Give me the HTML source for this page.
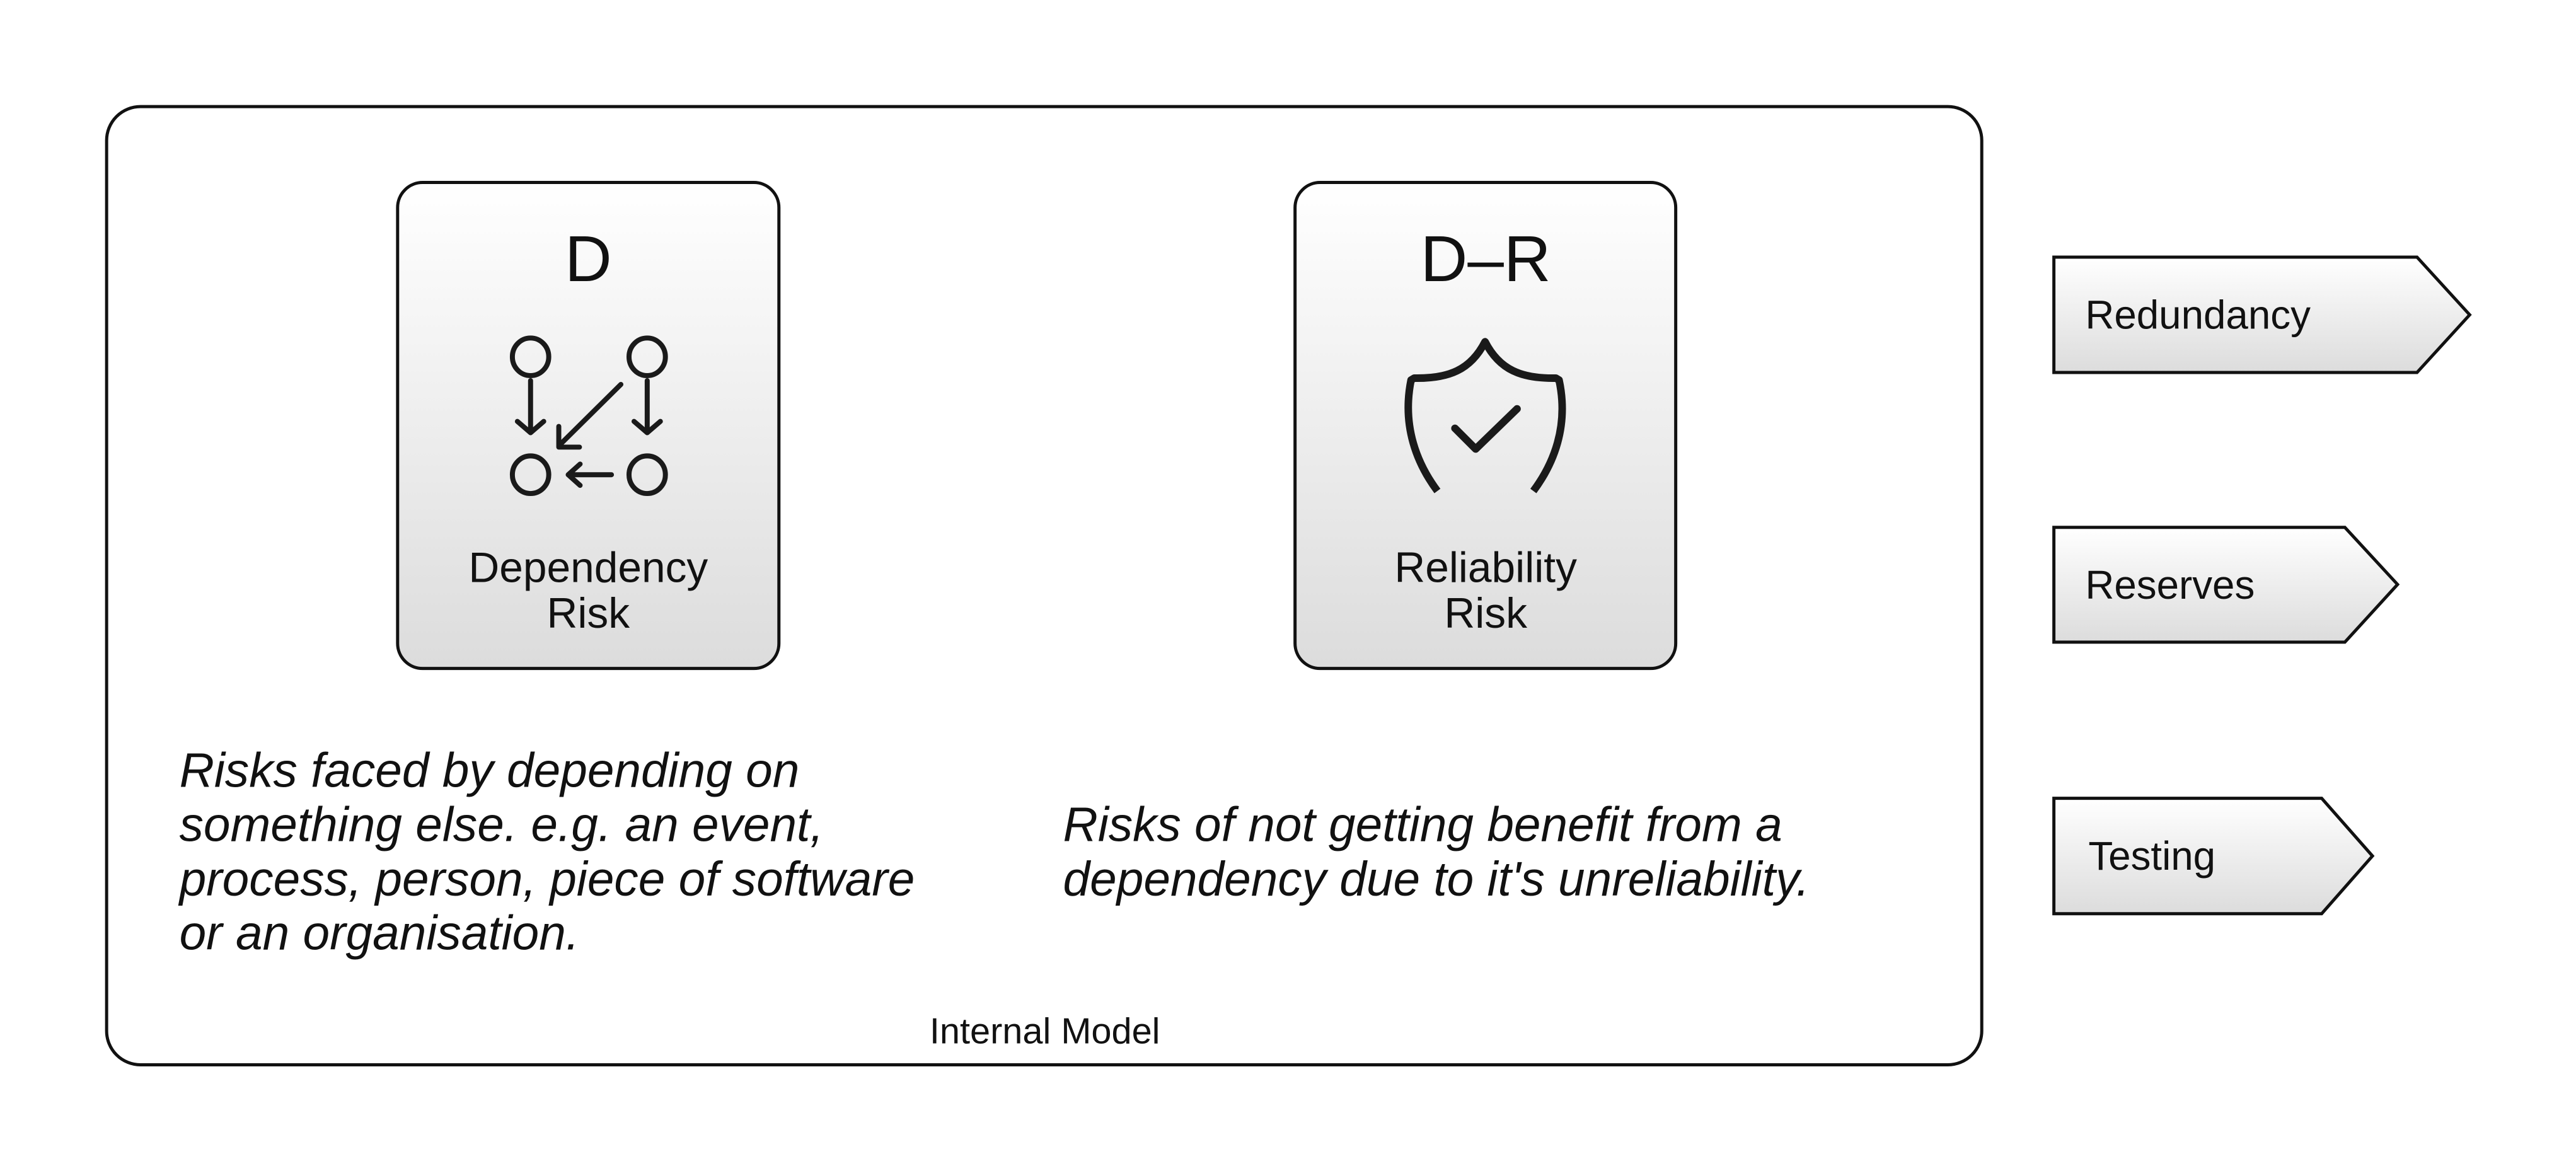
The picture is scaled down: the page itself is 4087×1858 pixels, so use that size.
<!DOCTYPE html>
<html><head><meta charset="utf-8"><style>
html,body{margin:0;padding:0;background:#fff;}
svg{display:block;}
text{font-family:"Liberation Sans",sans-serif;fill:#111;}
</style></head><body>
<svg width="4087" height="1858" viewBox="0 0 4087 1858" xmlns="http://www.w3.org/2000/svg">
<defs>
<linearGradient id="g" x1="0" y1="0" x2="0" y2="1">
<stop offset="0" stop-color="#ffffff"/><stop offset="1" stop-color="#dcdcdc"/>
</linearGradient>
</defs>
<g transform="scale(0.995)">
<rect x="170" y="170" width="2990" height="1528" rx="54" fill="#fff" stroke="#111" stroke-width="5"/>
<rect x="634" y="291" width="608" height="775" rx="40" fill="url(#g)" stroke="#111" stroke-width="5"/>
<rect x="2065" y="291" width="607" height="775" rx="40" fill="url(#g)" stroke="#111" stroke-width="5"/>
<text x="938" y="448" font-size="104" text-anchor="middle">D</text>
<text x="2369" y="448" font-size="104" text-anchor="middle">D–R</text>
<g fill="none" stroke="#1a1a1a" stroke-width="8" stroke-linecap="round" stroke-linejoin="round">
<ellipse cx="846" cy="569" rx="29" ry="30"/><ellipse cx="1032" cy="569" rx="29" ry="30"/>
<ellipse cx="846" cy="757" rx="29" ry="30"/><ellipse cx="1032" cy="757" rx="29" ry="30"/>
<path d="M846 607V690M825 672L846 690L867 672"/>
<path d="M1032 607V690M1011 672L1032 690L1053 672"/>
<path d="M990 613L891 711M891 680V713H924"/>
<path d="M975 757H906M925 740L906 757L925 774"/>
</g>
<g fill="none" stroke="#1a1a1a" stroke-width="12" stroke-linejoin="round" stroke-linecap="butt" transform="translate(10,0)">
<path d="M2282 783C2250 740 2225 680 2240 606L2245 603C2300 604 2335 590 2358 545C2381 590 2416 604 2471 603L2476 606C2492 680 2467 740 2435 783"/>
<path d="M2310 683L2343 716L2409 652" stroke-linecap="round"/>
</g>
<text x="938" y="928" font-size="68" text-anchor="middle">Dependency</text>
<text x="938" y="1001" font-size="68" text-anchor="middle">Risk</text>
<text x="2369" y="928" font-size="68" text-anchor="middle">Reliability</text>
<text x="2369" y="1001" font-size="68" text-anchor="middle">Risk</text>
<g font-size="77" font-style="italic">
<text x="286" y="1255">Risks faced by depending on</text>
<text x="286" y="1341">something else. e.g. an event,</text>
<text x="286" y="1428">process, person, piece of software</text>
<text x="286" y="1514">or an organisation.</text>
<text x="1695" y="1341">Risks of not getting benefit from a</text>
<text x="1695" y="1428">dependency due to it's unreliability.</text>
</g>
<text x="1666" y="1664" font-size="58" text-anchor="middle">Internal Model</text>
<g stroke="#111" stroke-width="5" fill="url(#g)">
<polygon points="3275,410 3854,410 3938,502 3854,594 3275,594"/>
<polygon points="3275,841 3739,841 3823,932 3739,1024 3275,1024"/>
<polygon points="3275,1273 3702,1273 3783,1365 3702,1457 3275,1457"/>
</g>
<g font-size="64">
<text x="3325" y="524">Redundancy</text>
<text x="3325" y="955">Reserves</text>
<text x="3330" y="1387">Testing</text>
</g>
</g>
</svg>
</body></html>
